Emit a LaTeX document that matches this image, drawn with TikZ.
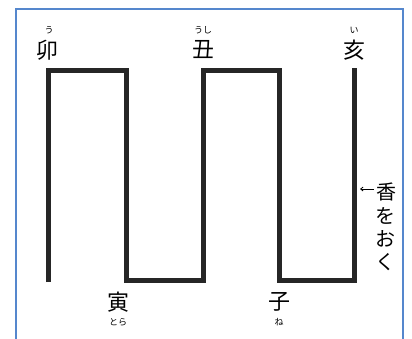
\documentclass[tikz,border=0pt]{standalone}
\usepackage{fontspec}
\usetikzlibrary{arrows.meta}
\newfontfamily\jp{Noto Sans CJK JP}
\begin{document}
\begin{tikzpicture}[x=1pt,y=-1pt,
  big/.style={font=\jp\fontsize{22}{22}\selectfont, inner sep=0pt},
  ruby/.style={font=\jp\fontsize{9}{9}\selectfont, inner sep=0pt},
  note/.style={font=\jp\fontsize{20}{20}\selectfont, inner sep=0pt},
  wall/.style={line width=5pt, line cap=butt, line join=miter, black!85}]
\useasboundingbox (0,0) rectangle (412,338);
\fill[white] (0,0) rectangle (412,338);
\draw[line width=2pt, color={rgb,255:red,85;green,135;blue,205}] (16,345) -- (16,9) -- (403,9) -- (403,345);
% zigzag path
\coordinate (p0) at (48,282);
\coordinate (p1) at (48,70);
\coordinate (p2) at (126,70);
\coordinate (p3) at (126,280);
\coordinate (p4) at (203,280);
\coordinate (p5) at (203,70);
\coordinate (p6) at (279,70);
\coordinate (p7) at (279,280);
\coordinate (p8) at (354,280);
\coordinate (p9) at (354,68);
\draw[wall] (p0) -- (p1) -- (p2) -- (p3) -- (p4) -- (p5) -- (p6) -- (p7) -- (p8) -- (p9);
% labels
\node[big] (u) at (47,50) {卯};
\node[ruby] (ur) at (49,30) {う};
\node[big] (us) at (203,50) {丑};
\node[ruby] (usr) at (203,30) {うし};
\node[big] (i) at (354,50) {亥};
\node[ruby] (ir) at (354,30) {い};
\node[big] (to) at (118,302) {寅};
\node[ruby] (tor) at (118,322) {とら};
\node[big] (ne) at (279,302) {子};
\node[ruby] (ner) at (279,322) {ね};
% right note
\node[note] (ko) at (386,192) {香};
\coordinate (ka) at (374,189);
\coordinate (kb) at (360,189);
\draw[-{Straight Barb[length=2.5pt,width=4pt]}, line width=0.8pt] (ka) -- (kb);
\node[note] (wo) at (385,216) {を};
\node[note] (o) at (385,239) {お};
\node[note] (ku) at (385,262) {く};
\end{tikzpicture}
\end{document}
